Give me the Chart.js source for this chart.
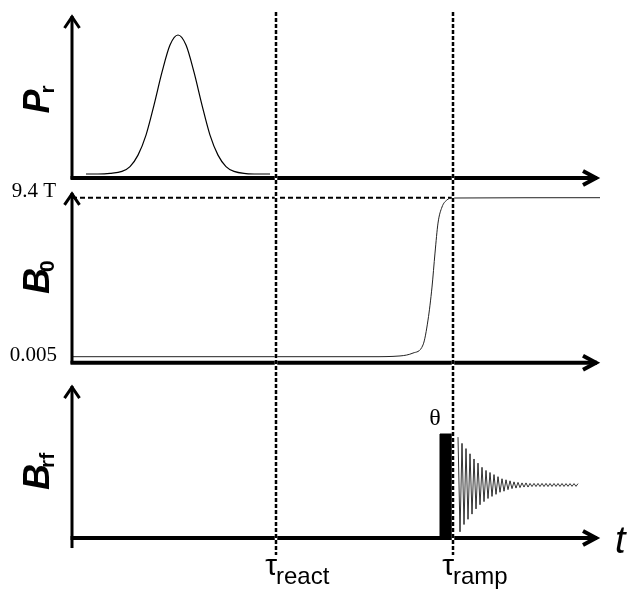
<!DOCTYPE html>
<html>
<head>
<meta charset="utf-8">
<script src="https://cdn.jsdelivr.net/npm/chart.js@4/dist/chart.umd.min.js"></script>
<style>
html, body { margin: 0; padding: 0; background: #fff; }
#wrap { position: relative; width: 629px; height: 592px; }
</style>
</head>
<body>
<div id="wrap"><canvas id="timing" width="629" height="592"></canvas></div>
<script>
// time runs in arbitrary units, 0 at the origin, 264 at the arrow tip
const tEnd = 264;
const tReact = 102;
const tRamp = 190.5;
const markerLabels = ['react', 'ramp'];

// P_r: polarisation pulse
const prTimes = [7, 13, 19, 25, 29, 33, 37, 41, 45, 49, 53, 57, 61, 65, 69, 73, 77, 81, 87, 93, 99];
const prValues = [0.028, 0.028, 0.032, 0.046, 0.08, 0.16, 0.30, 0.51, 0.74, 0.93, 1.0, 0.93, 0.74, 0.51, 0.30, 0.16, 0.08, 0.046, 0.031, 0.028, 0.028];

// B0: field ramp, tesla
const b0Times = [0, 150, 164, 170.5, 175.5, 178, 180, 181.5, 183, 185, 187.5, 190, 264];
const b0Values = [0.005, 0.005, 0.05, 0.22, 0.70, 2.17, 4.12, 6.13, 7.90, 8.85, 9.27, 9.38, 9.4];
const b0Ticks = [0.005, 9.4];
const b0TickLabels = ['0.005', '9.4 T'];

// B_rf: theta pulse then ringing
const pulseTimes = [184, 190.5];
const pulseHeight = 1.0;
const fidStart = 193;
const fidValues = [0.97, 0.06, 0.91, 0.13, 0.86, 0.18, 0.81, 0.23, 0.76, 0.28,
  0.72, 0.32, 0.68, 0.35, 0.65, 0.38, 0.63, 0.40, 0.61, 0.42,
  0.59, 0.44, 0.57, 0.45, 0.56, 0.465, 0.55, 0.475, 0.54, 0.48,
  0.535, 0.485, 0.53, 0.49, 0.53, 0.49, 0.525, 0.495, 0.525, 0.495,
  0.525, 0.495, 0.525, 0.495, 0.525, 0.495, 0.524, 0.496, 0.524, 0.496,
  0.524, 0.496, 0.524, 0.496, 0.523, 0.497, 0.523, 0.497, 0.523, 0.497, 0.523];

// panels, top to bottom
const panelIds = ['yP', 'yB', 'yRF'];
const panelMain = ['P', 'B', 'B'];
const panelSub = ['r', '0', 'rf'];
const panelBase = [0, -0.35, 0];
const panelTip = [1.147, 9.8, 1.48];
const panelLabelAt = [0.55, 4.7, 0.64];
const panelTail = [1, 1, 10];

function xy(xs, ys) {
  return xs.map((x, i) => ({ x: x, y: ys[i] }));
}

function chevron(ctx, x, y, dir, back, spread) {
  ctx.beginPath();
  if (dir === 'right') {
    ctx.moveTo(x - back, y - spread);
    ctx.lineTo(x, y);
    ctx.lineTo(x - back, y + spread);
  } else {
    ctx.moveTo(x - spread, y + back);
    ctx.lineTo(x, y);
    ctx.lineTo(x + spread, y + back);
  }
  ctx.stroke();
}

function rotatedLabel(ctx, main, sub, x, y) {
  ctx.save();
  ctx.translate(x, y);
  ctx.rotate(-Math.PI / 2);
  ctx.font = 'italic bold 36px "Liberation Sans", Arial, sans-serif';
  const wMain = ctx.measureText(main).width;
  ctx.font = 'bold 21px "Liberation Sans", Arial, sans-serif';
  const wSub = ctx.measureText(sub).width;
  const start = -(wMain + wSub - 4) / 2;
  ctx.textAlign = 'left';
  ctx.textBaseline = 'alphabetic';
  ctx.font = 'italic bold 36px "Liberation Sans", Arial, sans-serif';
  ctx.fillText(main, start, 0);
  ctx.font = 'bold 21px "Liberation Sans", Arial, sans-serif';
  ctx.fillText(sub, start + wMain - 4, 5);
  ctx.restore();
}

const schematic = {
  id: 'schematic',
  afterDatasetsDraw(chart) {
    const { ctx, chartArea, scales } = chart;
    const xs = scales.x;
    const left = xs.getPixelForValue(0);
    const right = xs.getPixelForValue(tEnd);
    ctx.save();
    ctx.strokeStyle = '#000';
    ctx.fillStyle = '#000';
    ctx.lineJoin = 'miter';
    ctx.lineCap = 'butt';

    panelIds.forEach((id, i) => {
      const ys = scales[id];
      const base = ys.getPixelForValue(panelBase[i]);
      const tip = ys.getPixelForValue(panelTip[i]);
      ctx.lineWidth = 3;
      ctx.beginPath();
      ctx.moveTo(left, base + panelTail[i]);
      ctx.lineTo(left, tip + 2);
      ctx.stroke();
      chevron(ctx, left, tip + 3, 'up', 11, 7.5);
      ctx.lineWidth = 4;
      ctx.beginPath();
      ctx.moveTo(left - 1.5, base);
      ctx.lineTo(right - 3, base);
      ctx.stroke();
      chevron(ctx, right - 4, base, 'right', 13, 7);
      rotatedLabel(ctx, panelMain[i], panelSub[i], 49, ys.getPixelForValue(panelLabelAt[i]));
    });

    // time markers
    [tReact, tRamp].forEach((t, i) => {
      const px = Math.round(xs.getPixelForValue(t));
      ctx.setLineDash([]);
      ctx.strokeStyle = '#fff';
      ctx.lineWidth = 2.5;
      ctx.beginPath();
      ctx.moveTo(px, chartArea.top);
      ctx.lineTo(px, chartArea.bottom);
      ctx.stroke();
      ctx.setLineDash([4, 2]);
      ctx.strokeStyle = '#000';
      ctx.beginPath();
      ctx.moveTo(px, chartArea.top);
      ctx.lineTo(px, chartArea.bottom);
      ctx.stroke();
      ctx.setLineDash([]);
      ctx.textBaseline = 'alphabetic';
      ctx.font = '30px "Liberation Sans", Arial, sans-serif';
      ctx.textAlign = 'right';
      ctx.fillText('\u03C4', px + 1, chartArea.bottom + 20);
      ctx.font = '24px "Liberation Sans", Arial, sans-serif';
      ctx.textAlign = 'left';
      ctx.fillText(markerLabels[i], px, chartArea.bottom + 29);
    });

    // B0 level labels
    const yB = scales.yB;
    ctx.font = '21px "Liberation Serif", "Times New Roman", serif';
    ctx.textAlign = 'right';
    ctx.textBaseline = 'middle';
    ctx.fillText(b0TickLabels[0], 57, yB.getPixelForValue(b0Ticks[0]) - 1);
    ctx.fillText(b0TickLabels[1], 56, yB.getPixelForValue(b0Ticks[1]) - 6);

    // theta over the pulse
    const yRF = scales.yRF;
    ctx.textAlign = 'center';
    ctx.textBaseline = 'alphabetic';
    ctx.font = '24px "Liberation Serif", "Times New Roman", serif';
    ctx.fillText('\u03B8', xs.getPixelForValue(pulseTimes[0]) - 5, yRF.getPixelForValue(pulseHeight) - 9);

    // time axis letter
    const baseRF = yRF.getPixelForValue(0);
    ctx.textAlign = 'left';
    ctx.font = 'italic 38px "Liberation Sans", Arial, sans-serif';
    ctx.fillText('t', right + 15, baseRF + 15);
    ctx.restore();
  }
};

const lineStyle = { borderColor: '#000', pointRadius: 0, fill: false };

new Chart(document.getElementById('timing'), {
  type: 'line',
  data: {
    datasets: [
      Object.assign({ label: 'P_r', data: xy(prTimes, prValues), yAxisID: 'yP', borderWidth: 1.2, cubicInterpolationMode: 'monotone' }, lineStyle),
      Object.assign({ label: 'B0', data: xy(b0Times, b0Values), yAxisID: 'yB', borderWidth: 1, borderColor: '#222', cubicInterpolationMode: 'monotone' }, { pointRadius: 0, fill: false }),
      Object.assign({ label: 'B0 level', data: [{ x: 0, y: b0Ticks[1] }, { x: tRamp, y: b0Ticks[1] }], yAxisID: 'yB', borderWidth: 2, borderDash: [5, 3] }, lineStyle),
      { label: 'theta pulse', yAxisID: 'yRF', pointRadius: 0, borderColor: '#000', borderWidth: 1,
        backgroundColor: '#000', fill: 'origin',
        data: [{ x: pulseTimes[0], y: 0 }, { x: pulseTimes[0], y: pulseHeight }, { x: pulseTimes[1], y: pulseHeight }, { x: pulseTimes[1], y: 0 }] },
      Object.assign({ label: 'FID', data: fidValues.map((v, i) => ({ x: fidStart + i, y: v })), yAxisID: 'yRF', borderWidth: 0.8, tension: 0 }, lineStyle)
    ]
  },
  options: {
    responsive: false,
    animation: false,
    layout: { padding: { left: 72, right: 29, top: 12, bottom: 37 } },
    plugins: { legend: { display: false }, tooltip: { enabled: false } },
    scales: {
      x: { type: 'linear', min: 0, max: tEnd, display: false },
      yRF: { type: 'linear', position: 'left', stack: 'panels', stackWeight: 183, weight: 1, min: -0.163, max: 1.596, display: false },
      yB: { type: 'linear', position: 'left', stack: 'panels', stackWeight: 188, weight: 2, min: -0.899, max: 10.209, display: false },
      yP: { type: 'linear', position: 'left', stack: 'panels', stackWeight: 172, weight: 3, min: -0.042, max: 1.161, display: false }
    }
  },
  plugins: [schematic]
});
</script>
</body>
</html>
